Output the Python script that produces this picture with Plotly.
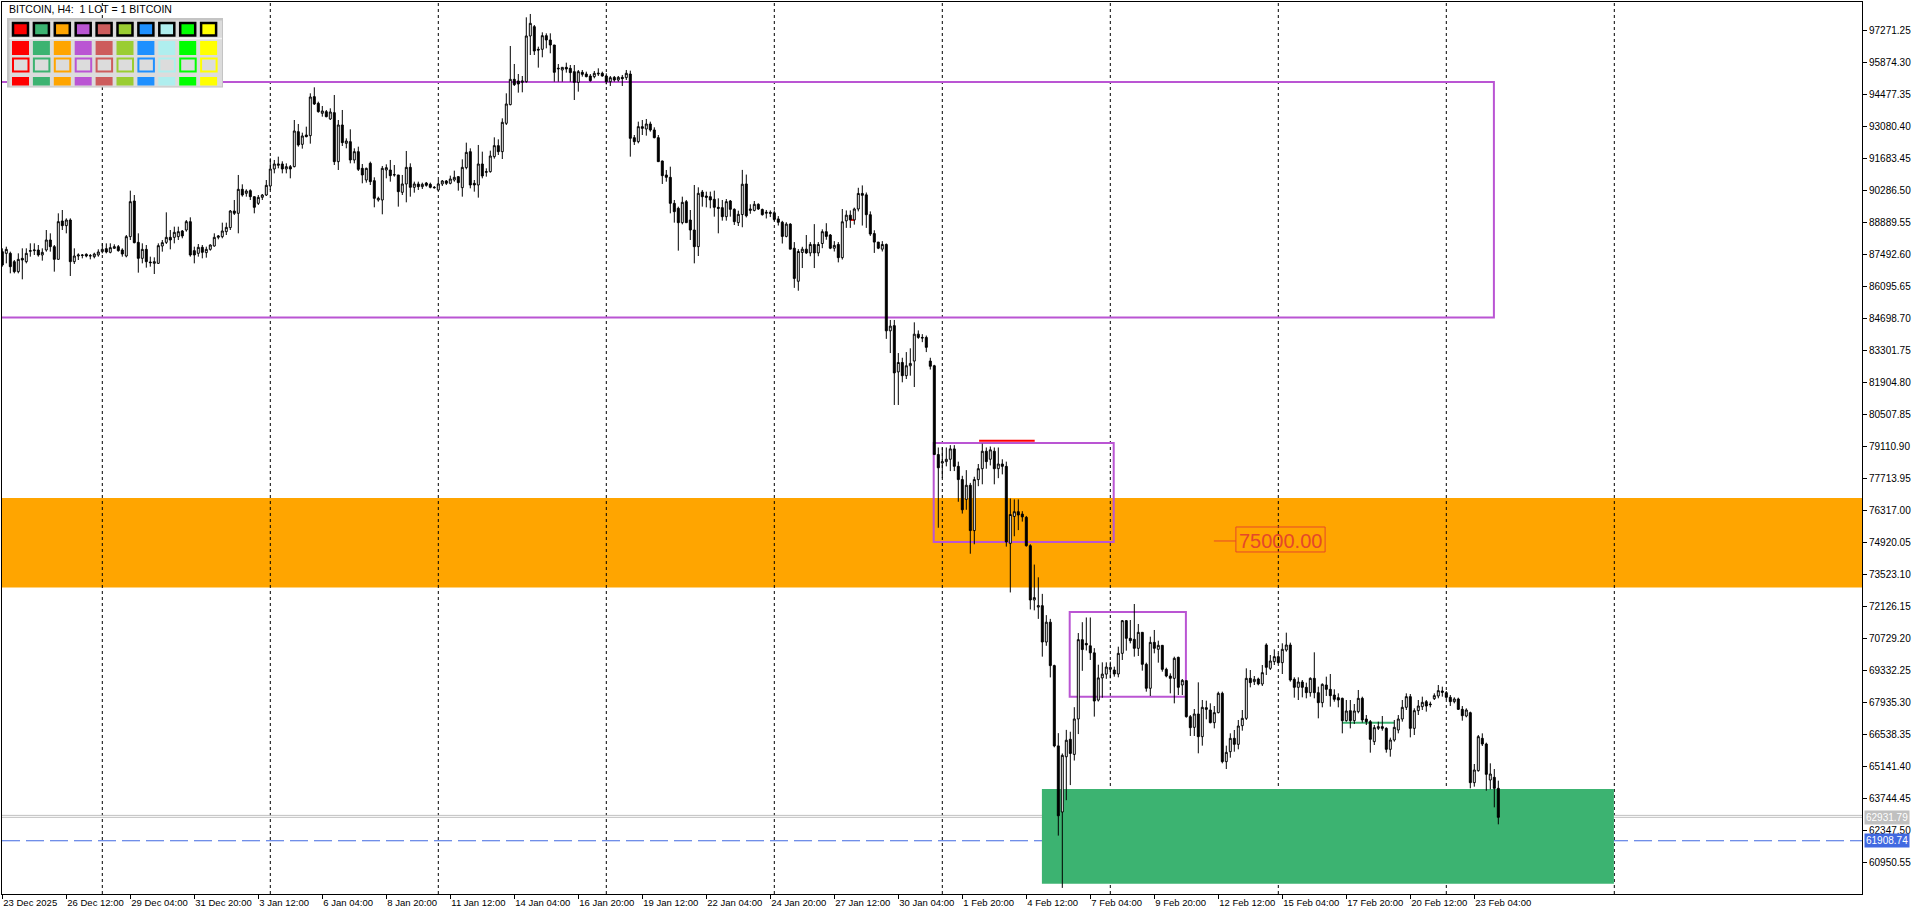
import plotly.graph_objects as go

# ---------------- data (BITCOIN, H4) ----------------
open_ = [
    87634, 87561, 87561, 87197, 86761, 87343, 87197, 87649, 87678, 87707,
    87489, 87707, 88144, 87853, 87299, 88973, 88770, 89017, 87197, 87445,
    87489, 87518, 87445, 87416, 87489, 87634, 87765, 87605, 87780, 87853,
    87707, 87445, 88289, 89847, 88042, 87343, 87736, 87183, 87125, 87125,
    87882, 88042, 88260, 88260, 88289, 88537, 88580, 88944, 87678, 87561,
    87824, 87591, 87736, 87882, 88260, 88289, 88508, 88683, 89410, 89309,
    90357, 90182, 90298, 90036, 89745, 90007, 90109, 90502, 91245, 91405,
    91463, 91245, 91346, 91346, 92875, 92322, 92729, 92700, 94404, 94112,
    93676, 93748, 93428, 93705, 91565, 93166, 92365, 92438, 91638, 92001,
    91274, 90764, 91492, 90735, 89891, 89891, 91201, 91201, 90983, 90983,
    90226, 90590, 91317, 90444, 90590, 90473, 90633, 90575, 90444, 90328,
    90590, 90721, 90619, 90764, 90910, 90429, 91303, 92001, 90619, 90546,
    91463, 91099, 91128, 91783, 92264, 92001, 93239, 94054, 95160, 95088,
    95029, 95058, 97053, 97460, 96471, 96471, 97067, 96878, 96659, 95612,
    95568, 95684, 95641, 95495, 95029, 95466, 95393, 95306, 95277, 95393,
    95423, 95306, 95058, 95248, 95131, 95248, 95233, 95393, 92613, 92438,
    93093, 92991, 93210, 92948, 92613, 91594, 90983, 90881, 89745, 89527,
    88901, 89818, 89017, 88580, 87853, 90240, 90065, 90036, 89920, 89571,
    89556, 89163, 89847, 89483, 88901, 89255, 90590, 89435, 89435, 89703,
    89476, 89311, 89352, 89332, 89063, 88919, 88301, 88837, 87785, 86342,
    87600, 87744, 87579, 87950, 87579, 87991, 88507, 88362, 87785, 87950,
    87373, 88981, 89228, 89022, 89497, 90177, 90115, 89249, 88424, 88053,
    87744, 87950, 84177, 84404, 82383, 82795, 82218, 82651, 82857, 84032,
    83888, 83888, 82857, 82651, 78774, 78403, 78465, 78568, 79021, 78259,
    77681, 76815, 77434, 75454, 77681, 78156, 78919, 78568, 78919, 78156,
    78362, 78259, 74898, 76073, 76279, 76176, 76032, 74794, 72423, 72114,
    72176, 70588, 71454, 69557, 66052, 63165, 65577, 66340, 65680, 67227,
    70691, 70526, 70423, 70114, 68052, 69021, 69186, 69395, 69366, 69191,
    70094, 71520, 70749, 70705, 70312, 71011, 69614, 68567, 70574, 70269,
    70443, 69395, 69104, 69002, 69919, 68711, 68900, 67328, 66862, 67445,
    66455, 67721, 67619, 67066, 67503, 68347, 65363, 65799, 66382, 66120,
    66935, 67255, 69002, 68857, 68973, 68755, 70458, 69439, 69730, 69948,
    69686, 70239, 70458, 68959, 68609, 68842, 68609, 68376, 69002, 68376,
    67939, 68711, 68522, 68274, 68158, 68129, 67153, 67590, 67153, 67547,
    68129, 67226, 67110, 66236, 66818, 66891, 66818, 65901, 66309, 66746,
    67226, 67736, 68202, 66818, 67590, 67765, 67983, 67881, 68114, 68231,
    68449, 68376, 68172, 67983, 68100, 67648, 67357, 67503, 64446, 64970,
    66382, 66134, 64562, 64679, 64198,
]
high = [
    87780, 87853, 87634, 87270, 87561, 87780, 87780, 87998, 87998, 87925,
    87780, 88580, 88435, 87925, 89309, 89454, 89090, 89090, 87780, 87561,
    87532, 87561, 87532, 87591, 87736, 87998, 87998, 87998, 87955, 87925,
    87780, 88362, 90298, 90109, 88435, 87998, 87925, 87416, 87387, 87998,
    88144, 89352, 88580, 88726, 88726, 88580, 89017, 89134, 87853, 87969,
    87925, 87853, 87955, 88435, 88362, 88901, 88901, 89454, 89891, 90983,
    90575, 90357, 90357, 90036, 90109, 90153, 90764, 91711, 91638, 91783,
    91580, 91492, 91419, 93384, 93210, 92831, 93093, 94549, 94811, 94185,
    93996, 93821, 93894, 94476, 93384, 93821, 92584, 92977, 92147, 92220,
    91463, 91303, 91565, 90881, 90036, 91376, 91448, 91638, 91419, 90983,
    90983, 92031, 91492, 90691, 90691, 90648, 90677, 90648, 90502, 90764,
    90764, 90764, 90954, 91172, 90939, 91667, 92395, 92147, 90764, 92293,
    92001, 91274, 92045, 92627, 92540, 93457, 94549, 96616, 95830, 95393,
    95306, 97868, 98014, 97533, 96587, 97213, 97169, 97169, 96659, 95830,
    95684, 95888, 95786, 95786, 95568, 95568, 95495, 95393, 95524, 95641,
    95495, 95423, 95306, 95306, 95306, 95350, 95568, 95539, 92729, 93312,
    93384, 93428, 93312, 93064, 92729, 91608, 91201, 91346, 89891, 89600,
    90036, 89891, 89454, 90546, 90444, 90328, 90255, 90255, 90298, 89963,
    89891, 89934, 89891, 89527, 89425, 91205, 91000, 89703, 89847, 89744,
    89517, 89455, 89435, 89435, 89187, 88981, 88919, 88878, 88053, 87744,
    87847, 88362, 88053, 88837, 88053, 88610, 88878, 88404, 88094, 88053,
    89497, 89435, 89435, 89558, 90424, 90528, 90218, 89393, 88569, 88053,
    88094, 87991, 84651, 84651, 83207, 83001, 83249, 83414, 84548, 84197,
    84032, 83970, 83001, 82692, 79083, 79083, 79083, 79186, 79186, 78465,
    77846, 78094, 77537, 77805, 78362, 79248, 79083, 79125, 79083, 79083,
    78568, 78465, 76856, 76815, 76815, 76300, 76094, 74857, 73970, 73413,
    72691, 71763, 71598, 69598, 66608, 65722, 66752, 66670, 67742, 70980,
    71454, 71660, 71660, 70320, 69598, 69701, 69701, 69730, 69512, 70385,
    71549, 71549, 71549, 72248, 71375, 71011, 69686, 70822, 71113, 70647,
    70458, 69468, 69220, 69948, 69948, 68973, 68929, 67400, 67663, 68827,
    68056, 68027, 67910, 67794, 68420, 68420, 66062, 66600, 66746, 67183,
    67619, 69439, 69366, 69104, 69031, 69584, 70531, 70021, 70269, 70094,
    70531, 70996, 70560, 69046, 69046, 68929, 68813, 69046, 70138, 68638,
    68784, 69075, 69191, 68522, 68347, 68158, 68056, 68056, 67881, 68493,
    68201, 67400, 67183, 66964, 67110, 67357, 66862, 66411, 67183, 67400,
    68056, 68347, 68318, 67692, 68056, 68202, 68056, 67983, 68347, 68711,
    68638, 68449, 68274, 68172, 68158, 67794, 67692, 67547, 65261, 66528,
    66600, 66193, 65290, 65042, 64533,
]
low = [
    86979, 87125, 86688, 86688, 86688, 86426, 87125, 87416, 87489, 87416,
    87241, 87634, 87634, 86761, 87299, 88580, 88435, 86572, 87095, 87270,
    87343, 87387, 87299, 87343, 87416, 87561, 87561, 87561, 87765, 87634,
    87416, 87387, 88144, 87998, 86717, 87125, 86936, 86979, 86659, 87095,
    87634, 87969, 87736, 87998, 88144, 88217, 88508, 87416, 87125, 87416,
    87343, 87372, 87678, 87853, 88173, 88217, 88362, 88580, 89236, 88435,
    90036, 90036, 89891, 89309, 89672, 89891, 90065, 90328, 91055, 91274,
    91055, 91055, 90837, 91317, 92220, 92132, 92627, 92351, 94040, 93705,
    93530, 93501, 93384, 91419, 91201, 92249, 92147, 91492, 91492, 91157,
    90619, 90648, 90546, 89571, 89818, 89265, 90837, 90691, 90910, 89600,
    90109, 89789, 90036, 90211, 90328, 90371, 90473, 90400, 90386, 90298,
    90502, 90546, 90575, 90691, 90298, 90036, 91230, 90400, 90255, 89993,
    90837, 90910, 91085, 91696, 91856, 91681, 93166, 94025, 94869, 94578,
    94593, 95015, 96223, 96223, 95670, 96121, 96514, 96296, 95058, 95058,
    95058, 95452, 95058, 94258, 94622, 95277, 95248, 95058, 95204, 95306,
    95277, 94942, 94869, 95058, 95058, 94869, 95131, 91783, 92293, 92365,
    92729, 92700, 92875, 92584, 91565, 90590, 90691, 89309, 88901, 87678,
    88828, 88901, 88144, 87125, 87445, 89600, 89571, 89527, 89163, 88435,
    88988, 88988, 89163, 88799, 88755, 88700, 89130, 89290, 89393, 89455,
    89208, 89084, 89146, 88981, 88775, 87991, 88259, 87744, 86053, 85929,
    86919, 87538, 87435, 86919, 87435, 87785, 88156, 87744, 87641, 87166,
    87290, 88672, 88672, 88816, 89393, 88775, 88672, 88321, 87579, 87744,
    87641, 83826, 83207, 80939, 80939, 81929, 82073, 82218, 81723, 83826,
    83682, 83249, 82486, 78774, 75578, 77743, 78259, 78052, 78052, 76712,
    76197, 76362, 74444, 74857, 77393, 77475, 78156, 78300, 77475, 77743,
    77908, 74753, 72753, 75207, 75475, 75846, 74753, 72011, 71970, 71598,
    69949, 70423, 69042, 65990, 62134, 59850, 63680, 64340, 65412, 66567,
    69330, 70217, 69804, 67330, 67990, 68155, 68980, 69002, 69075, 69046,
    69803, 70210, 70531, 69948, 69977, 69337, 68420, 68231, 70094, 69686,
    69293, 69046, 68347, 67910, 68274, 68274, 67284, 66484, 66484, 65727,
    66062, 67212, 67037, 66818, 67474, 65290, 65042, 65537, 65799, 65901,
    66717, 67183, 68609, 68711, 68697, 68667, 69148, 69366, 69584, 69657,
    69191, 70167, 68857, 68158, 68056, 68172, 68129, 68201, 68129, 67255,
    67736, 68231, 67765, 67983, 67736, 66600, 67110, 66818, 67008, 67474,
    67066, 66964, 65756, 66091, 66746, 66717, 65756, 65581, 66236, 66600,
    67110, 67619, 66425, 66527, 67401, 67619, 67547, 67736, 68056, 68129,
    68201, 68085, 67794, 67910, 67619, 67153, 67299, 64198, 64271, 64926,
    66047, 64096, 64155, 63369, 62626,
]
close = [
    87052, 87736, 86979, 86761, 87299, 87270, 87561, 87678, 87707, 87489,
    87605, 88144, 87853, 87299, 88944, 88770, 89017, 87197, 87445, 87489,
    87474, 87445, 87460, 87532, 87620, 87736, 87620, 87809, 87853, 87678,
    87532, 88289, 89818, 88027, 87343, 87736, 87197, 87154, 87197, 87896,
    88027, 88260, 88144, 88479, 88508, 88319, 88944, 87489, 87489, 87824,
    87605, 87736, 87925, 88260, 88319, 88537, 88697, 89410, 89309, 90357,
    90109, 90284, 90036, 89571, 90007, 90109, 90531, 91245, 91463, 91463,
    91245, 91346, 91245, 92904, 92293, 92686, 92657, 94389, 94083, 93748,
    93778, 93530, 93734, 91565, 93166, 92395, 92467, 91638, 92001, 91230,
    90983, 91274, 90691, 89963, 89963, 91274, 91303, 90954, 90997, 90255,
    90590, 91317, 90444, 90590, 90473, 90575, 90531, 90444, 90429, 90590,
    90721, 90619, 90808, 90881, 90648, 91317, 91972, 90546, 90546, 91463,
    90939, 91128, 91812, 92264, 92001, 93283, 94083, 95160, 94928, 94957,
    95088, 97053, 97606, 96398, 96441, 97067, 96878, 96659, 95466, 95641,
    95684, 95612, 95452, 95029, 95495, 95379, 95277, 95102, 95423, 95423,
    95306, 95058, 95233, 95131, 95248, 95190, 95423, 92584, 92438, 93093,
    93020, 93210, 92948, 92613, 91565, 90954, 90881, 89745, 89381, 88901,
    89789, 88901, 88580, 87853, 90182, 90036, 90007, 89891, 89571, 89527,
    89163, 89818, 89483, 88944, 89265, 90580, 89200, 89497, 89703, 89497,
    89249, 89352, 89311, 89043, 88919, 88301, 88837, 87744, 86465, 87641,
    87744, 87579, 87950, 87579, 87950, 88507, 88301, 87785, 87909, 87373,
    88940, 89228, 89022, 89497, 90177, 90095, 89249, 88404, 88053, 87785,
    87950, 84177, 84383, 82341, 82795, 82218, 82651, 82754, 84032, 83888,
    83867, 83455, 82630, 78774, 78197, 78465, 78568, 79021, 78259, 77681,
    76362, 77434, 75454, 77681, 78156, 78919, 78465, 78980, 78156, 78362,
    78259, 74960, 76155, 76279, 76135, 76052, 74794, 72423, 72527, 72176,
    70588, 71454, 69557, 66052, 63000, 65639, 66299, 65721, 67227, 70691,
    70258, 70464, 70114, 68011, 69021, 69186, 69495, 69482, 69191, 70094,
    71520, 70749, 70647, 70312, 71011, 69614, 68567, 70574, 70312, 70443,
    69395, 69104, 69002, 69876, 68609, 68915, 67328, 66848, 67445, 66455,
    67736, 67648, 67066, 67503, 68347, 65363, 65770, 66382, 66120, 66920,
    67255, 69002, 68813, 68959, 68755, 69250, 69482, 69759, 69948, 69686,
    70269, 70458, 68929, 68609, 68842, 68609, 68376, 69002, 68376, 67939,
    68740, 68522, 68245, 68085, 68056, 67153, 67576, 67153, 67576, 68129,
    67183, 67110, 66338, 66848, 66891, 66818, 65901, 66309, 66862, 67226,
    67736, 68202, 66818, 67590, 67794, 67954, 67794, 67852, 68245, 68464,
    68391, 68172, 67983, 68100, 67648, 67372, 67619, 64446, 64999, 66455,
    66134, 64810, 64824, 64198, 62931.79,
]
bar_index = list(range(len(close)))

x_tick_bars = [0, 16, 32, 48, 64, 80, 96, 112, 128, 144, 160, 176,
               192, 208, 224, 240, 256, 272, 288, 304, 320, 336, 352, 368]
x_tick_labels = ["23 Dec 2025", "26 Dec 12:00", "29 Dec 04:00", "31 Dec 20:00",
                 "3 Jan 12:00", "6 Jan 04:00", "8 Jan 20:00", "11 Jan 12:00",
                 "14 Jan 04:00", "16 Jan 20:00", "19 Jan 12:00", "22 Jan 04:00",
                 "24 Jan 20:00", "27 Jan 12:00", "30 Jan 04:00", "1 Feb 20:00",
                 "4 Feb 12:00", "7 Feb 04:00", "9 Feb 20:00", "12 Feb 12:00",
                 "15 Feb 04:00", "17 Feb 20:00", "20 Feb 12:00", "23 Feb 04:00"]
y_tick_labels = ["60950.55", "62347.50", "63744.45", "65141.40", "66538.35",
                 "67935.30", "69332.25", "70729.20", "72126.15", "73523.10",
                 "74920.05", "76317.00", "77713.95", "79110.90", "80507.85",
                 "81904.80", "83301.75", "84698.70", "86095.65", "87492.60",
                 "88889.55", "90286.50", "91683.45", "93080.40", "94477.35",
                 "95874.30", "97271.25"]
y_tick_values = [float(v) for v in y_tick_labels]

# chart objects (bar index / price)
week_separators = [25, 67, 109, 151, 193, 235, 277, 319, 361, 403]
orange_zone = [72970, 76880]                        # price bottom, top
green_zone = [259.9, 402.9, 60033, 64169]           # x0, x1, y0, y1
purple_boxes = [[-2, 372.9, 84755, 95044],
                [232.85, 277.85, 74960, 79280],
                [266.85, 295.9, 68200, 71899]]
red_marks = [[244.2, 258.1, 79379], [212.1, 213.2, 89022]]
green_mark = [335, 348, 67064]
bid_price = 62931.79
ask_price = 63018
alert_price = 61908.74
level_price = 75000.00
level_label_x = [302.9, 308.4, 330.7]              # line start, box left, box right
level_box_prices = [74520, 75611]
panel_colors = ["#FF0000", "#3CB371", "#FFA500", "#BA55D3", "#CD5C5C",
                "#9ACD32", "#1E90FF", "#AFEEEE", "#00FF00", "#FFFF00"]

# ---------------- geometry helpers (pixels -> paper) ----------------
W, H = 1920, 915
PL, PR, PT, PB = 2, 1862, 2, 894
def pxx(x):
    return (x - PL) / (PR - PL)
def pxy(y):
    return (PB - y) / (PB - PT)

X0_PX, BAR_PX = 2.3, 4.0
x_range = [(PL - X0_PX) / BAR_PX, (PR - X0_PX) / BAR_PX]
y_range = [59584, 98537]

fig = go.Figure()
fig.add_trace(go.Candlestick(
    x=bar_index, open=open_, high=high, low=low, close=close,
    increasing=dict(line=dict(color="black", width=1), fillcolor="white"),
    decreasing=dict(line=dict(color="black", width=1), fillcolor="black"),
    whiskerwidth=0, showlegend=False, hoverinfo="skip",
))

shapes = []
shapes.append(dict(type="rect", xref="paper", yref="y", x0=0, x1=1,
                   y0=orange_zone[0], y1=orange_zone[1],
                   fillcolor="#FFA500", line=dict(width=0), layer="below"))
shapes.append(dict(type="rect", xref="x", yref="y", x0=green_zone[0], x1=green_zone[1],
                   y0=green_zone[2], y1=green_zone[3],
                   fillcolor="#3CB371", line=dict(width=0), layer="below"))
for b in week_separators:
    shapes.append(dict(type="line", xref="x", yref="paper", x0=b, x1=b, y0=0, y1=1,
                       line=dict(color="black", width=1, dash="3px,3px"), layer="below"))
for p in (ask_price, bid_price):
    shapes.append(dict(type="line", xref="paper", yref="y", x0=0, x1=1, y0=p, y1=p,
                       line=dict(color="#C0C0C0", width=1), layer="below"))
shapes.append(dict(type="line", xref="paper", yref="y", x0=0, x1=1, y0=alert_price, y1=alert_price,
                   line=dict(color="#4169E1", width=1, dash="18px,6px"), layer="below"))
for x0, x1, y0, y1 in purple_boxes:
    shapes.append(dict(type="rect", xref="x", yref="y", x0=x0, x1=x1, y0=y0, y1=y1,
                       line=dict(color="#BA55D3", width=2), fillcolor="rgba(0,0,0,0)", layer="below"))
for x0, x1, p in red_marks:
    shapes.append(dict(type="line", xref="x", yref="y", x0=x0, x1=x1, y0=p, y1=p,
                       line=dict(color="#FF0000", width=2), layer="below"))
shapes.append(dict(type="line", xref="x", yref="y", x0=green_mark[0], x1=green_mark[1],
                   y0=green_mark[2], y1=green_mark[2],
                   line=dict(color="#3CB371", width=2), layer="below"))
LBL = "#E5482A"
shapes.append(dict(type="line", xref="x", yref="y", x0=level_label_x[0], x1=level_label_x[1],
                   y0=level_price, y1=level_price, line=dict(color=LBL, width=1), layer="below"))
shapes.append(dict(type="rect", xref="x", yref="y", x0=level_label_x[1], x1=level_label_x[2],
                   y0=level_box_prices[0], y1=level_box_prices[1],
                   line=dict(color=LBL, width=1), fillcolor="rgba(0,0,0,0)", layer="below"))

# ---- colour panel (top-left) ----
def prect(x0, y0, x1, y1, fill, line_color=None, lw=0):
    return dict(type="rect", xref="paper", yref="paper",
                x0=pxx(x0), x1=pxx(x1), y0=pxy(y1), y1=pxy(y0),
                fillcolor=fill, line=dict(color=line_color or fill, width=lw), layer="above")

shapes.append(prect(7, 18, 223, 87.5, "#C4C4C4"))
shapes.append(prect(9.5, 20.5, 222, 86.5, "#DCDCDC"))
shapes.append(dict(type="line", xref="paper", yref="paper", x0=pxx(9.5), x1=pxx(222),
                   y0=pxy(38.5), y1=pxy(38.5), line=dict(color="#F4F4F4", width=1.5), layer="above"))
STEP = 20.9
for k, col in enumerate(panel_colors):
    bx = 12 + STEP * k
    shapes.append(prect(bx + 1, 23, bx + 16, 35.5, col, "black", 2.5))
    shapes.append(prect(bx, 41, bx + 17, 55, col))
    shapes.append(prect(bx + 1, 58.5, bx + 16.5, 71.5, "#DCDCDC", col, 2))
    shapes.append(prect(bx, 77, bx + 17, 85.5, col))

annotations = [
    dict(xref="paper", yref="paper", x=pxx(7), y=pxy(9), xanchor="left", yanchor="middle",
         text="BITCOIN, H4:\u00a0 1 LOT = 1 BITCOIN", showarrow=False,
         font=dict(family="Liberation Sans", size=10.5, color="black")),
    dict(xref="x", yref="y", x=(level_label_x[1] + level_label_x[2]) / 2, y=level_price,
         xanchor="center", yanchor="middle", text="%.2f" % level_price, showarrow=False,
         font=dict(family="Liberation Sans", size=20, color=LBL)),
    dict(xref="paper", yref="y", x=pxx(1864), y=bid_price, xanchor="left", yanchor="middle",
         text="%.2f" % bid_price, showarrow=False, bgcolor="#C0C0C0", borderpad=1,
         font=dict(family="Liberation Sans", size=10, color="white")),
    dict(xref="paper", yref="y", x=pxx(1864), y=alert_price, xanchor="left", yanchor="middle",
         text="%.2f" % alert_price, showarrow=False, bgcolor="#4169E1", borderpad=1,
         font=dict(family="Liberation Sans", size=10, color="white")),
]

fig.update_layout(
    width=W, height=H,
    margin=dict(l=PL, r=W - PR, t=PT, b=H - PB, pad=0, autoexpand=False),
    paper_bgcolor="white", plot_bgcolor="white",
    shapes=shapes, annotations=annotations, showlegend=False,
    xaxis=dict(range=x_range, type="linear", rangeslider=dict(visible=False),
               tickmode="array", tickvals=x_tick_bars, ticktext=x_tick_labels,
               tickangle=0, automargin=False,
               ticks="outside", ticklen=4, tickcolor="black", tickwidth=1,
               ticklabelposition="outside right",
               showline=True, linecolor="black", linewidth=1, mirror=True,
               showgrid=False, zeroline=False, fixedrange=True,
               tickfont=dict(family="Liberation Sans", size=9.5, color="black")),
    yaxis=dict(range=y_range, side="right", automargin=False,
               tickmode="array", tickvals=y_tick_values, ticktext=y_tick_labels,
               ticks="outside", ticklen=4, tickcolor="black", tickwidth=1,
               showline=True, linecolor="black", linewidth=1, mirror=True,
               showgrid=False, zeroline=False, fixedrange=True,
               tickfont=dict(family="Liberation Sans", size=10, color="black")),
)

fig.write_html("out.html", config={"displayModeBar": False},
               post_script="document.body.style.margin='0';document.body.style.overflow='hidden';")
